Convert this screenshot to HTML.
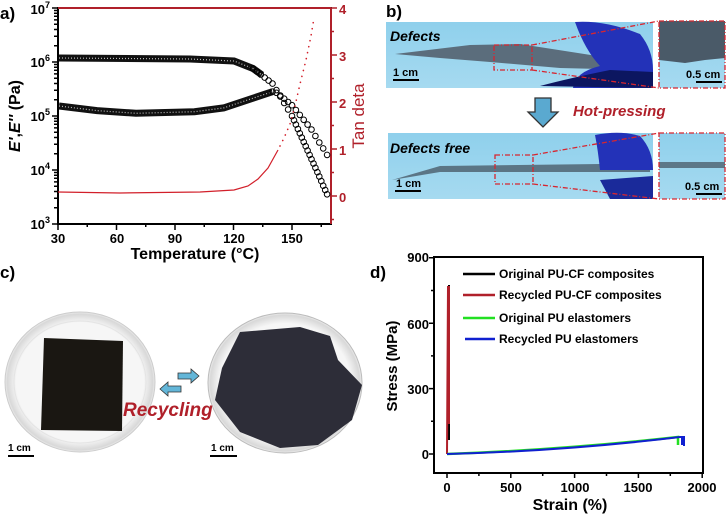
<!DOCTYPE html>
<html><head><meta charset="utf-8"><style>
html,body{margin:0;padding:0;background:#fff;}
svg{display:block;font-family:"Liberation Sans",Arial,sans-serif;font-weight:bold;}
</style></head><body>
<svg width="726" height="519" viewBox="0 0 726 519" xmlns="http://www.w3.org/2000/svg">
<defs>
<linearGradient id="bg" x1="0" y1="0" x2="0" y2="1"><stop offset="0" stop-color="#8fd0ec"/><stop offset="1" stop-color="#a6daf0"/></linearGradient>
<radialGradient id="dish" cx="0.5" cy="0.5" r="0.5"><stop offset="0.85" stop-color="#f6f6f6"/><stop offset="0.97" stop-color="#d8d8d8"/><stop offset="1" stop-color="#eee"/></radialGradient>
<marker id="c" markerWidth="8" markerHeight="8" refX="4" refY="4" markerUnits="userSpaceOnUse"><circle cx="4" cy="4" r="2.8" fill="none" stroke="#000" stroke-width="1"/></marker>
</defs>
<!-- Panel a -->
<text x="0" y="19" font-size="17">a)</text>
<rect x="58" y="8" width="273" height="216" fill="none" stroke="#000" stroke-width="2"/>
<line x1="58" y1="8" x2="331" y2="8" stroke="#b0202a" stroke-width="2"/>
<line x1="331" y1="8" x2="331" y2="224" stroke="#b0202a" stroke-width="2"/>
<path stroke="#000" stroke-width="1.5" d="M58 224v6M87.25 224v3M116.5 224v6M145.75 224v3M175 224v6M204.25 224v3M233.5 224v6M262.75 224v3M292 224v6M321.25 224v3
M52 8h6M52 62h6M52 116h6M52 170h6M52 224h6
M54 207.7h4M54 198.2h4M54 191.5h4M54 186.2h4M54 181.9h4M54 178.3h4M54 175.2h4M54 172.5h4
M54 153.7h4M54 144.2h4M54 137.5h4M54 132.2h4M54 127.9h4M54 124.3h4M54 121.2h4M54 118.5h4
M54 99.7h4M54 90.2h4M54 83.5h4M54 78.2h4M54 73.9h4M54 70.3h4M54 67.2h4M54 64.5h4
M54 45.7h4M54 36.2h4M54 29.5h4M54 24.2h4M54 19.9h4M54 16.3h4M54 13.2h4M54 10.5h4"/>
<path stroke="#b0202a" stroke-width="1.5" d="M331 8h6M331 31.5h3M331 55h6M331 78.5h3M331 102h6M331 125.5h3M331 149h6M331 172.5h3M331 196h6M331 219.5h3"/>
<g font-size="13" text-anchor="end">
<text x="50" y="229">10<tspan font-size="9" dy="-6">3</tspan></text>
<text x="50" y="175">10<tspan font-size="9" dy="-6">4</tspan></text>
<text x="50" y="121">10<tspan font-size="9" dy="-6">5</tspan></text>
<text x="50" y="67">10<tspan font-size="9" dy="-6">6</tspan></text>
<text x="50" y="14">10<tspan font-size="9" dy="-6">7</tspan></text>
</g>
<g font-size="13" fill="#b0202a">
<text x="339" y="202">0</text><text x="339" y="155">1</text><text x="339" y="108">2</text><text x="339" y="61">3</text><text x="339" y="14">4</text>
</g>
<g font-size="13" text-anchor="middle">
<text x="58" y="243">30</text><text x="117" y="243">60</text><text x="175" y="243">90</text><text x="234" y="243">120</text><text x="292" y="243">150</text>
</g>
<text x="195" y="259" font-size="16" text-anchor="middle">Temperature (°C)</text>
<text transform="translate(20,116) rotate(-90)" font-size="16" text-anchor="middle"><tspan font-style="italic">E'</tspan>,<tspan font-style="italic">E''</tspan> (Pa)</text>
<text transform="translate(364,116) rotate(-90)" font-size="17" text-anchor="middle" fill="#b0202a" font-weight="normal">Tan deta</text>
<!-- E' band -->
<path d="M59 58 L190 59 L234 61 L253 68.5 L262 75" fill="none" stroke="#111" stroke-width="7"/>
<path d="M59 58 L190 59 L234 61 L253 68.5 L262 75" fill="none" stroke="#bbb" stroke-width="1.2" stroke-dasharray="1 2"/>
<polyline fill="none" stroke="none" marker-start="url(#c)" marker-mid="url(#c)" marker-end="url(#c)" points="253,68.5 256.9,71.5 260.8,74.5 264.7,77.6 268.6,80.6 272.5,83.6 276.4,90.1 280.3,96.6 284.2,103 288.1,109.5 292,116 294,120.3 295.9,124.6 297.9,129 299.8,133.3 301.8,137.6 303.7,141.9 305.7,146.2 307.6,150.6 309.6,154.9 311.5,159.2 313.5,163.5 315.4,167.8 317.4,172.2 319.3,176.5 321.3,181.1 323.2,185.7 325.2,190 327.1,194.3"/>
<!-- E'' band -->
<path d="M59 106 L97 110.6 L136 113.3 L194.5 111.7 L223.7 107.9 L253 98.2 L272.5 91.7" fill="none" stroke="#111" stroke-width="7"/>
<path d="M59 106 L97 110.6 L136 113.3 L194.5 111.7 L223.7 107.9 L253 98.2 L272.5 91.7" fill="none" stroke="#bbb" stroke-width="1.2" stroke-dasharray="1 2"/>
<polyline fill="none" stroke="none" marker-start="url(#c)" marker-mid="url(#c)" marker-end="url(#c)" points="272.5,91.7 276.4,92.8 280.3,95.5 284.2,98.7 288.1,102 292,105.2 295.9,110 299.8,114.9 303.7,119.8 307.6,124.6 311.5,129.5 315.4,136 319.3,142.5 323.2,148.4 327.1,154.9"/>
<polyline fill="none" stroke="#d21f2a" stroke-width="1.2" points="58,192 120,193 200,192 234,190 248,186 258,179 268,168 278,150"/>
<polyline fill="none" stroke="#d21f2a" stroke-width="1.6" stroke-linecap="round" stroke-dasharray="0.1 6" points="280,146 284,138 290,124 295,106 300,84 306,60 311,36 314,18"/>

<!-- Panel b -->
<text x="386" y="17" font-size="17">b)</text>
<rect x="386" y="22" width="267" height="66" fill="url(#bg)"/>
<path d="M395 54 L470 45 L520 44 L610 58 L640 64 L640 70 L560 68 L490 62 L440 58 Z" fill="#5b6d7c"/>
<path d="M575 22 Q605 20 640 34 Q653 50 653 70 L653 88 L573 88 Q575 72 600 66 Q585 50 575 22Z" fill="#2332b8"/>
<path d="M540 86 Q570 78 610 70 L653 72 L653 88 Z" fill="#0c1660"/>
<rect x="494" y="45" width="38" height="25" fill="none" stroke="#d7262f" stroke-width="1.3" stroke-dasharray="5,2,1,2"/>
<line x1="532" y1="45" x2="659" y2="21" stroke="#d7262f" stroke-width="1.3" stroke-dasharray="5,2,1,2"/>
<line x1="532" y1="70" x2="659" y2="88" stroke="#d7262f" stroke-width="1.3" stroke-dasharray="5,2,1,2"/>
<rect x="659" y="21" width="66" height="67" fill="url(#bg)"/>
<path d="M659 21 L725 21 L725 58 L705 60 L685 63 L659 60 Z" fill="#4a5a68"/>
<rect x="659" y="21" width="66" height="67" fill="none" stroke="#d7262f" stroke-width="1.3" stroke-dasharray="5,2,1,2"/>
<text x="390" y="41" font-size="14" font-style="italic">Defects</text>
<text x="393" y="76" font-size="11">1 cm</text><line x1="393" y1="80" x2="419" y2="80" stroke="#000" stroke-width="2"/>
<text x="686" y="78" font-size="11">0.5 cm</text><line x1="696" y1="82" x2="722" y2="82" stroke="#000" stroke-width="2"/>
<path d="M535 98 L551 98 L551 112 L558 112 L543 127 L528 112 L535 112 Z" fill="#5aa9d0" stroke="#333" stroke-width="1.3"/>
<text x="573" y="116" font-size="15" font-style="italic" fill="#b0202a">Hot-pressing</text>
<rect x="388" y="133" width="265" height="66" fill="url(#bg)"/>
<path d="M392 180 L440 166 L600 164 L650 166 L650 172 L600 172 L440 172 Z" fill="#5b7585"/>
<path d="M595 135 Q620 130 640 136 Q653 150 653 170 L600 170 Q598 150 595 135Z" fill="#2332b8"/>
<path d="M600 180 L653 176 L653 199 L610 199Z" fill="#1a2a9a"/>
<rect x="495" y="155" width="38" height="29" fill="none" stroke="#d7262f" stroke-width="1.3" stroke-dasharray="5,2,1,2"/>
<line x1="533" y1="155" x2="659" y2="133" stroke="#d7262f" stroke-width="1.3" stroke-dasharray="5,2,1,2"/>
<line x1="533" y1="184" x2="659" y2="199" stroke="#d7262f" stroke-width="1.3" stroke-dasharray="5,2,1,2"/>
<rect x="659" y="133" width="66" height="66" fill="url(#bg)"/>
<rect x="659" y="162" width="66" height="6" fill="#5d7888"/>
<rect x="659" y="133" width="66" height="66" fill="none" stroke="#d7262f" stroke-width="1.3" stroke-dasharray="5,2,1,2"/>
<text x="390" y="153" font-size="14" font-style="italic">Defects free</text>
<text x="396" y="187" font-size="11">1 cm</text><line x1="395" y1="191" x2="421" y2="191" stroke="#000" stroke-width="2"/>
<text x="685" y="190" font-size="11">0.5 cm</text><line x1="696" y1="194" x2="722" y2="194" stroke="#000" stroke-width="2"/>

<!-- Panel c -->
<text x="0" y="278" font-size="17">c)</text>
<ellipse cx="80" cy="382" rx="75" ry="70" fill="url(#dish)" stroke="#ccc"/>
<ellipse cx="80" cy="382" rx="66" ry="61" fill="none" stroke="#e4e4e4"/>
<path d="M44 338 L123 341 L122 431 L41 430 Z" fill="#1a1712"/>
<ellipse cx="285" cy="383" rx="77" ry="70" fill="url(#dish)" stroke="#bbb"/>
<path d="M240 332 L300 327 L330 336 L338 360 L362 385 L352 420 L318 445 L280 448 L240 432 L215 400 L222 368 Z" fill="#2d2d38"/>
<path d="M178 373 L191 373 L191 369 L199 376 L191 383 L191 379 L178 379 Z" fill="#63b6d8" stroke="#333" stroke-width="0.8"/>
<path d="M181 386 L168 386 L168 382 L160 389 L168 396 L168 392 L181 392 Z" fill="#63b6d8" stroke="#333" stroke-width="0.8"/>
<text x="123" y="416" font-size="19" font-style="italic" fill="#b0202a">Recycling</text>
<text x="8" y="451" font-size="10">1 cm</text><line x1="8" y1="456" x2="34" y2="456" stroke="#000" stroke-width="2"/>
<text x="211" y="451" font-size="10">1 cm</text><line x1="210" y1="456" x2="237" y2="456" stroke="#000" stroke-width="2"/>

<!-- Panel d -->
<text x="370" y="278" font-size="17">d)</text>
<rect x="434" y="257" width="269" height="216" fill="none" stroke="#000" stroke-width="2"/>
<path stroke="#000" stroke-width="1.5" d="M447 473v5M478.9 473v3M510.8 473v5M542.7 473v3M574.6 473v5M606.5 473v3M638.4 473v5M670.3 473v3M702.2 473v5
M434 454h-5M434 421.3h-3M434 388.6h-5M434 355.9h-3M434 323.2h-5M434 290.5h-3M434 257.8h-5"/>
<g font-size="13" text-anchor="end">
<text x="429" y="262">900</text><text x="429" y="329">600</text><text x="429" y="394">300</text><text x="429" y="459">0</text>
</g>
<g font-size="13" text-anchor="middle">
<text x="447" y="492">0</text><text x="511" y="492">500</text><text x="575" y="492">1000</text><text x="638" y="492">1500</text><text x="702" y="492">2000</text>
</g>
<text x="570" y="510" font-size="16" text-anchor="middle">Strain (%)</text>
<text transform="translate(397,366) rotate(-90)" font-size="15" text-anchor="middle">Stress (MPa)</text>
<g font-size="12">
<line x1="463" y1="274" x2="495" y2="274" stroke="#000" stroke-width="2.5"/><text x="499" y="278">Original PU-CF composites</text>
<line x1="463" y1="295" x2="495" y2="295" stroke="#b0202a" stroke-width="2.5"/><text x="499" y="299">Recycled PU-CF composites</text>
<line x1="463" y1="318" x2="495" y2="318" stroke="#22e022" stroke-width="2.5"/><text x="499" y="322">Original PU elastomers</text>
<line x1="465" y1="339" x2="495" y2="339" stroke="#1020d0" stroke-width="2.5"/><text x="499" y="343">Recycled PU elastomers</text>
</g>
<line x1="449" y1="440" x2="449" y2="285" stroke="#000" stroke-width="2"/>
<path d="M447 454 L448 287 L449 287 L449 424" fill="none" stroke="#b0202a" stroke-width="2"/>
<path d="M447 454 Q560 450 678 437 L678 445" fill="none" stroke="#22e022" stroke-width="2.5"/>
<path d="M447 454 Q565 451 680 437 L684 437 L684 446 M682 437 L682 445" fill="none" stroke="#1020d0" stroke-width="2"/>
</svg>
</body></html>
